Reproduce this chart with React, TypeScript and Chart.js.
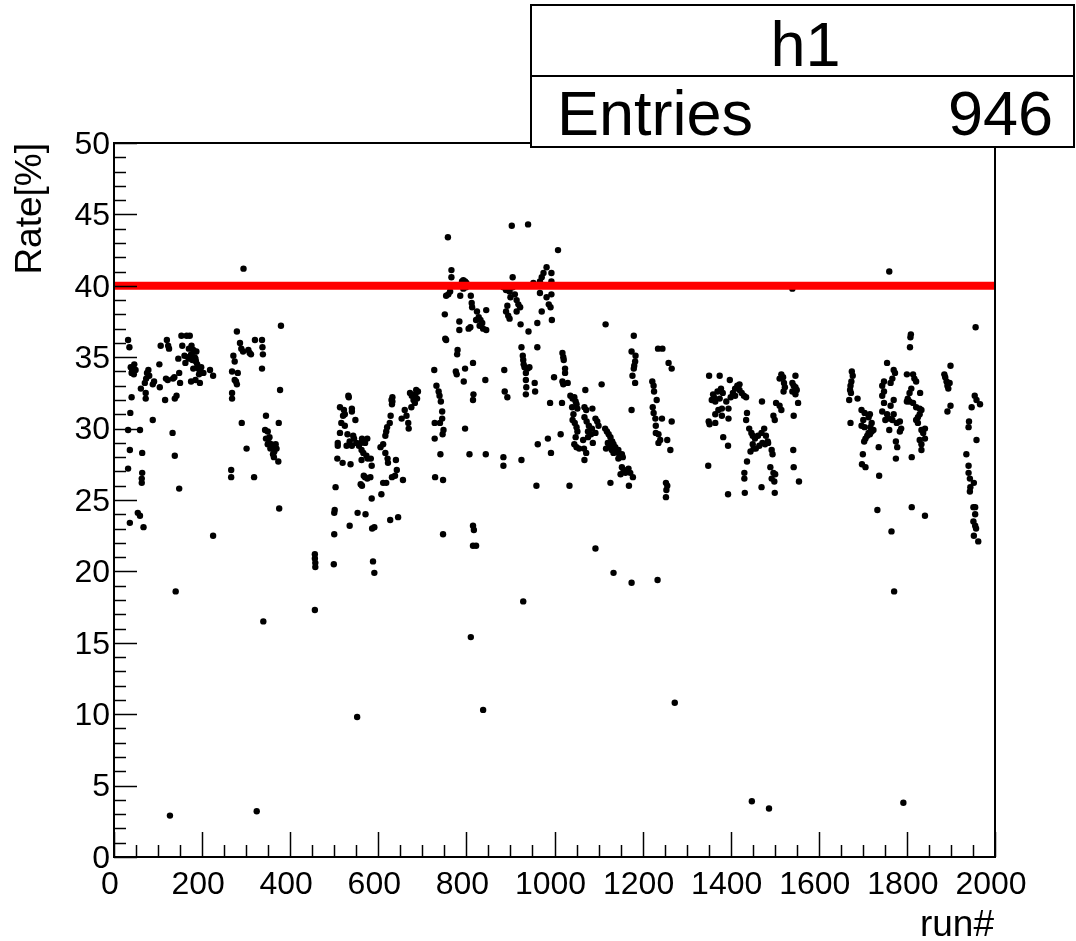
import React, { useEffect, useRef } from "react";
import { Chart, registerables } from "chart.js";

Chart.register(...registerables);

// ---- data: [run#, rate %], grouped by run range ----
const runs0to100: [number, number][] = [
  [32,36.2],[35,35.7],[38,34.3],[41,34.0],[44,34.2],[40,33.9],[45,33.8],[40,32.2],[37,31.1],[32,29.9],[59,29.9],[36,28.5],[64,28.3],[32,27.2],[64,26.9],[63,26.5],[63,26.2],[54,24.1],[59,23.9],[36,23.4],[67,23.1],[61,32.8],[72,32.5],[72,32.1],[75,33.9],[78,34.1],[80,33.7],[73,33.5],[70,33.2],[91,33.3],[88,33.1],[88,30.6],[49,34.1],[46,34.5],
];
const runs100to240: [number, number][] = [
  [103,34.5],[106,35.8],[104,32.9],[118,33.5],[122,33.4],[120,36.2],[123,35.8],[125,35.6],[116,32.0],[134,33.5],[137,33.6],[133,29.7],[138,28.1],[138,32.1],[142,32.3],[146,34.9],[148,33.9],[150,33.2],[148,25.8],[140,18.6],[127,2.9],[153,36.5],[155,35.8],[172,36.5],[165,36.5],[160,35.1],[170,35.6],[162,34.6],[175,35.2],[178,34.8],[180,35.5],[183,35.0],[186,34.7],[189,34.5],[192,34.2],[195,34.0],[198,34.3],[185,34.9],[193,33.8],[175,33.3],[185,33.4],[195,33.2],[218,34.1],[225,33.7],[225,22.5],[203,33.9],[180,34.2],[176,35.8],[187,35.4],[172,34.9],[168,35.0],
];
const runs260to380: [number, number][] = [
  [279,36.8],[271,35.1],[274,34.7],[268,34.0],[281,33.9],[286,36.0],[289,35.6],[293,35.4],[277,33.3],[279,33.1],[274,33.4],[268,32.5],[268,32.1],[290,30.4],[301,28.6],[266,27.1],[266,26.6],[318,26.6],[305,35.5],[308,35.3],[311,35.2],[320,36.2],[336,36.2],[337,35.7],[338,35.2],[336,34.2],[294,41.2],[379,37.2],[377,32.7],[374,30.4],[373,27.7],[375,24.4],[345,30.9],[343,29.9],[349,29.8],[345,29.3],[353,29.4],[349,28.9],[357,28.9],[361,28.7],[364,28.4],[369,28.6],[355,28.6],[361,28.2],[363,28.0],[324,3.2],[339,16.5],[352,29.0],[367,28.9],
];
const runs450to700: [number, number][] = [
  [456,21.2],[456,20.9],[457,20.6],[457,20.3],[456,17.3],[499,20.5],[500,22.6],[500,24.1],[501,24.3],[503,25.9],[507,27.9],[519,27.6],[537,27.5],[508,29.0],[508,28.8],[513,29.7],[516,30.4],[520,30.9],[524,30.2],[522,31.3],[513,31.5],[540,31.4],[540,31.2],[532,32.3],[533,32.2],[524,31.0],[548,30.6],[530,29.6],[545,29.3],[550,29.0],[556,28.8],[560,29.0],[575,29.3],[570,29.0],[563,29.3],[543,29.5],[528,28.8],[540,28.8],[535,29.1],[562,28.5],[566,28.3],[573,28.1],[576,27.9],[583,27.9],[562,27.8],[585,27.4],[567,26.7],[570,26.6],[560,26.1],[563,26.0],[575,26.5],[582,26.6],[585,25.1],[553,24.1],[571,24.0],[535,23.2],[586,23.0],[591,23.1],[552,9.8],[588,20.7],[591,19.9],[607,25.4],[611,26.2],[618,26.2],[605,28.7],[611,28.9],[616,28.3],[621,27.9],[622,27.6],[616,29.5],[618,29.8],[620,30.1],[626,30.4],[628,30.9],[631,31.7],[632,31.9],[632,32.2],[630,32.0],[640,27.8],[642,27.1],[638,26.7],[631,26.6],[656,26.4],[627,23.6],[645,23.8],[653,30.7],[660,31.3],[664,30.9],[668,30.4],[675,31.5],[672,32.5],[676,32.3],[680,32.0],[683,31.8],[686,32.7],[684,32.4],[690,32.6],[688,32.1],[669,30.0],
];
const runs720to860: [number, number][] = [
  [727,34.1],[732,33.0],[737,32.6],[739,32.3],[742,31.9],[745,31.2],[745,30.7],[740,30.4],[728,30.4],[748,29.9],[746,29.6],[728,29.3],[741,28.2],[729,26.6],[747,26.4],[747,22.6],[758,43.4],[766,41.1],[766,40.6],[754,39.3],[759,39.4],[763,39.6],[751,38.0],[752,36.3],[754,36.2],[780,35.5],[779,35.2],[776,34.0],[778,33.8],[797,34.2],[794,33.3],[797,30.0],[790,40.3],[793,40.4],[797,40.3],[800,40.2],[799,39.9],[793,39.8],[786,39.3],[810,39.3],[812,38.8],[813,38.5],[784,37.5],[784,36.9],[805,37.0],[809,37.1],[824,38.2],[828,37.8],[832,37.6],[836,37.4],[838,37.0],[845,36.9],[845,38.3],[815,34.6],[843,33.4],[816,32.4],[815,32.0],[807,28.2],[844,28.2],[815,23.2],[817,22.9],[815,21.8],[822,21.8],[810,15.4],[838,10.3],[830,37.2],[822,37.6],
];
const runs880to1010: [number, number][] = [
  [903,44.2],[940,44.3],[905,40.6],[884,39.9],[890,39.7],[893,40.0],[898,39.6],[905,39.9],[910,39.4],[914,39.0],[918,38.7],[922,38.5],[893,38.6],[890,38.2],[900,39.2],[895,37.9],[898,37.7],[914,38.2],[923,37.3],[941,36.8],[925,35.7],[928,35.1],[929,34.8],[930,34.5],[932,34.3],[939,34.2],[943,34.3],[935,33.9],[886,34.1],[935,33.4],[936,32.9],[935,32.4],[955,33.2],[956,32.6],[887,32.6],[893,32.2],[961,35.7],[961,37.4],[971,38.2],[952,40.2],[967,40.3],[971,40.6],[975,40.9],[982,41.3],[993,40.9],[993,40.3],[967,39.5],[982,39.2],[993,39.4],[987,38.7],[991,38.5],[994,37.6],[1008,42.5],[884,28.0],[884,27.4],[925,27.8],[959,26.0],[962,28.9],[985,29.3],[992,28.3],[990,31.8],[999,33.6],[929,17.9],
];
const runs1010to1100: [number, number][] = [
  [1014,29.6],[1017,31.8],[1018,35.3],[1020,35.0],[1021,34.8],[1024,34.2],[1024,33.9],[1018,33.3],[1020,33.1],[1030,33.2],[1034,26.0],[1036,32.3],[1041,32.1],[1045,32.2],[1048,31.9],[1050,31.7],[1052,31.4],[1040,31.5],[1043,31.0],[1041,30.6],[1046,30.4],[1070,32.7],[1068,31.5],[1072,31.3],[1068,30.8],[1073,30.5],[1078,30.2],[1085,30.0],[1050,30.1],[1052,29.8],[1048,29.4],[1045,28.9],[1050,28.7],[1056,28.6],[1067,28.6],[1072,28.3],[1068,27.8],[1065,29.2],[1076,29.4],[1083,29.6],[1087,29.0],[1076,29.8],[1093,30.7],[1093,29.7],[1093,21.6],[1097,30.5],[1086,31.4],
];
const runs1100to1280: [number, number][] = [
  [1116,37.3],[1107,33.1],[1100,30.2],[1115,30.0],[1119,29.8],[1123,29.6],[1127,29.4],[1131,29.1],[1134,28.9],[1138,28.7],[1141,28.5],[1145,28.3],[1121,29.0],[1125,28.8],[1130,28.5],[1134,28.3],[1145,28.5],[1149,28.1],[1153,28.2],[1155,28.0],[1145,27.9],[1117,28.6],[1153,27.3],[1157,27.1],[1161,26.9],[1168,27.2],[1172,26.9],[1150,26.8],[1165,27.0],[1178,26.6],[1169,26.0],[1127,26.2],[1134,19.9],[1175,19.2],[1180,36.5],[1175,35.4],[1184,35.1],[1183,34.7],[1181,34.4],[1180,34.2],[1177,33.7],[1183,33.2],[1175,31.3],[1235,35.6],[1245,35.6],[1259,34.6],[1266,34.2],[1222,33.3],[1225,33.0],[1226,32.6],[1232,32.0],[1223,31.5],[1225,31.1],[1229,30.7],[1230,30.2],[1244,30.7],[1230,29.7],[1236,29.6],[1240,29.2],[1236,29.0],[1266,30.5],[1256,29.2],[1263,28.5],[1253,26.2],[1256,26.0],[1254,25.7],[1253,25.2],[1234,19.4],[1273,10.8],
];
const runs1340to1560: [number, number][] = [
  [1351,33.7],[1375,33.7],[1398,33.4],[1420,33.1],[1360,32.4],[1362,32.2],[1357,32.0],[1365,31.9],[1370,32.6],[1378,32.8],[1382,32.5],[1375,32.1],[1390,31.9],[1400,32.2],[1405,32.5],[1410,32.8],[1415,33.0],[1420,32.7],[1425,32.5],[1430,32.3],[1435,32.2],[1410,32.3],[1395,31.4],[1380,31.4],[1372,31.3],[1365,31.0],[1350,30.5],[1352,30.3],[1365,30.4],[1380,30.9],[1395,30.7],[1349,27.4],[1383,29.4],[1394,28.8],[1394,25.4],[1432,25.5],[1437,31.1],[1435,30.6],[1442,30.0],[1447,29.7],[1450,29.5],[1455,29.3],[1462,29.5],[1470,29.7],[1476,30.0],[1480,29.5],[1484,29.1],[1450,28.9],[1457,28.6],[1465,28.8],[1472,29.0],[1478,28.9],[1485,29.0],[1445,28.4],[1452,28.6],[1437,27.7],[1431,26.9],[1431,26.5],[1471,31.9],[1493,28.5],[1495,28.2],[1490,27.3],[1497,26.9],[1501,26.8],[1493,26.5],[1499,26.3],[1470,25.9],[1500,25.5],[1497,30.9],[1500,30.6],[1503,31.8],[1511,31.6],[1515,31.3],[1520,32.6],[1521,33.2],[1511,33.5],[1515,33.8],[1519,33.6],[1523,32.9],[1540,33.2],[1543,33.0],[1547,32.9],[1550,32.7],[1547,32.4],[1540,32.6],[1547,33.7],[1553,31.8],[1543,30.9],[1542,28.5],[1543,27.3],[1555,26.3],[1540,39.8],[1448,3.9],[1487,3.4],
];
const runs1660to1850: [number, number][] = [
  [1760,41.0],[1675,34.0],[1677,33.7],[1674,33.3],[1672,33.0],[1671,32.7],[1673,32.5],[1669,32.0],[1688,32.1],[1672,30.4],[1697,31.3],[1704,31.1],[1701,30.6],[1697,30.2],[1704,30.1],[1716,31.0],[1713,30.8],[1720,30.4],[1717,30.1],[1724,29.9],[1713,29.7],[1710,29.5],[1706,29.3],[1703,29.1],[1716,29.6],[1720,29.8],[1700,28.2],[1698,27.5],[1706,27.3],[1736,28.7],[1737,26.7],[1733,24.3],[1765,22.8],[1771,18.6],[1792,3.8],[1755,34.6],[1770,34.1],[1773,33.9],[1748,33.3],[1744,33.0],[1763,33.2],[1767,33.5],[1748,32.6],[1744,32.3],[1748,31.8],[1744,31.2],[1755,31.0],[1751,30.6],[1760,30.7],[1767,30.6],[1770,31.0],[1770,32.0],[1763,31.6],[1777,30.4],[1784,30.5],[1787,30.0],[1784,29.8],[1760,29.9],[1775,29.1],[1778,28.7],[1775,27.9],
  [1800,33.8],[1814,33.8],[1817,33.5],[1821,33.3],[1810,32.8],[1806,32.5],[1802,32.1],[1800,31.9],[1806,31.9],[1814,31.8],[1821,31.5],[1829,31.4],[1833,31.3],[1829,31.0],[1825,30.8],[1821,30.6],[1825,30.4],[1833,29.9],[1841,30.0],[1837,29.7],[1841,29.3],[1829,29.2],[1833,28.9],[1833,28.5],[1808,36.4],[1809,36.6],[1807,35.7],[1830,32.5],[1811,28.0],[1811,24.5],[1841,23.9],
];
const runs1870to2000: [number, number][] = [
  [1899,34.4],[1885,33.8],[1887,33.6],[1890,33.3],[1892,33.0],[1894,32.8],[1897,33.2],[1899,31.6],[1892,31.2],[1956,37.1],[1954,32.3],[1958,32.0],[1966,31.7],[1947,31.5],[1941,30.5],[1940,30.1],[1958,29.2],[1935,28.2],[1940,27.4],[1940,26.9],[1943,26.5],[1944,25.9],[1943,25.6],[1952,26.2],[1951,24.5],[1955,24.5],[1955,24.0],[1951,23.5],[1955,23.2],[1957,23.0],[1952,22.5],[1962,22.1],
];

const thresholdRuns = [0, 2000];
const thresholdRate = 40;

const xTickValues = [0, 200, 400, 600, 800, 1000, 1200, 1400, 1600, 1800, 2000];
const yTickValues = [0, 5, 10, 15, 20, 25, 30, 35, 40, 45, 50];
const xTitle = "run#";
const yTitle = "Rate[%]";
const statsName = "h1";
const statsEntriesLabel = "Entries";
const statsEntries = 946;

const FONT = '"Liberation Sans", Arial, Helvetica, sans-serif';

const allPoints = [
  ...runs0to100, ...runs100to240, ...runs260to380, ...runs450to700,
  ...runs720to860, ...runs880to1010, ...runs1010to1100, ...runs1100to1280,
  ...runs1340to1560, ...runs1660to1850, ...runs1870to2000,
].map(([x, y]) => ({ x, y }));

const rootStylePlugin = {
  id: "rootStyle",
  beforeDraw(chart: any) {
    const ctx = chart.ctx;
    ctx.save();
    ctx.fillStyle = "#ffffff";
    ctx.fillRect(0, 0, chart.width, chart.height);
    ctx.restore();
  },
  afterDraw(chart: any) {
    const ctx = chart.ctx;
    const { left, right, top, bottom } = chart.chartArea;
    const xs = chart.scales.x;
    const ys = chart.scales.y;
    ctx.save();
    ctx.strokeStyle = "#000";
    ctx.fillStyle = "#000";
    // frame
    ctx.lineWidth = 2;
    ctx.strokeRect(left, top, right - left, bottom - top);
    // y ticks (inside)
    ctx.lineWidth = 1.5;
    for (let v = 0; v <= 50; v += 1) {
      const y = Math.round(ys.getPixelForValue(v)) + 0.5;
      const len = v % 5 === 0 ? 23 : 12;
      ctx.beginPath();
      ctx.moveTo(left, y);
      ctx.lineTo(left + len, y);
      ctx.stroke();
    }
    // x ticks (inside)
    for (let v = 0; v <= 2000; v += 50) {
      const x = Math.round(xs.getPixelForValue(v)) + 0.5;
      const len = v % 200 === 0 ? 25 : 12;
      ctx.beginPath();
      ctx.moveTo(x, bottom);
      ctx.lineTo(x, bottom - len);
      ctx.stroke();
    }
    // tick labels
    ctx.font = `32px ${FONT}`;
    ctx.textAlign = "right";
    ctx.textBaseline = "middle";
    yTickValues.forEach((v) => {
      ctx.fillText(String(v), left - 4, ys.getPixelForValue(v) + 2);
    });
    ctx.textAlign = "center";
    ctx.textBaseline = "alphabetic";
    xTickValues.forEach((v) => {
      ctx.fillText(String(v), xs.getPixelForValue(v) - 4, 894);
    });
    // axis titles
    ctx.font = `37px ${FONT}`;
    ctx.textAlign = "right";
    ctx.fillText(xTitle, right - 1, 936);
    ctx.save();
    ctx.translate(41, top);
    ctx.rotate(-Math.PI / 2);
    ctx.textAlign = "right";
    ctx.textBaseline = "alphabetic";
    ctx.fillText(yTitle, 0, 0);
    ctx.restore();
    // stats box
    const bx = 531, by = 5, bw = 543, bh = 142, mid = 76;
    ctx.fillStyle = "#fff";
    ctx.fillRect(bx, by, bw, bh);
    ctx.strokeStyle = "#000";
    ctx.lineWidth = 2;
    ctx.strokeRect(bx, by, bw, bh);
    ctx.beginPath();
    ctx.moveTo(bx, mid);
    ctx.lineTo(bx + bw, mid);
    ctx.stroke();
    ctx.fillStyle = "#000";
    ctx.font = `63px ${FONT}`;
    ctx.textAlign = "center";
    ctx.textBaseline = "alphabetic";
    ctx.fillText(statsName, bx + bw / 2 + 3, 66);
    ctx.textAlign = "left";
    ctx.fillText(statsEntriesLabel, 557, 135);
    ctx.textAlign = "right";
    ctx.fillText(String(statsEntries), 1053, 135);
    ctx.restore();
  },
};

export default function App() {
  const canvasRef = useRef<HTMLCanvasElement | null>(null);

  useEffect(() => {
    const canvas = canvasRef.current;
    if (!canvas) return;
    const chart = new Chart(canvas, {
      type: "scatter",
      data: {
        datasets: [
          {
            label: "threshold",
            data: thresholdRuns.map((x) => ({ x, y: thresholdRate })),
            showLine: true,
            borderColor: "#ff0000",
            backgroundColor: "#ff0000",
            borderWidth: 8,
            pointRadius: 0,
            order: 0,
          } as any,
          {
            label: "h1",
            data: allPoints,
            backgroundColor: "#000000",
            borderWidth: 0,
            pointRadius: 3.2,
            pointHoverRadius: 3.2,
            order: 1,
          } as any,
        ],
      },
      options: {
        animation: false,
        responsive: false,
        devicePixelRatio: 1,
        layout: { padding: { left: 114, top: 143, right: 81, bottom: 84 } },
        plugins: {
          legend: { display: false },
          tooltip: { enabled: false },
          title: { display: false },
        },
        events: [],
        scales: {
          x: { type: "linear", min: 0, max: 2000, display: false },
          y: { type: "linear", min: 0, max: 50, display: false },
        },
      },
      plugins: [rootStylePlugin],
    });
    return () => chart.destroy();
  }, []);

  return (
    <div style={{ position: "absolute", left: 0, top: 0, width: 1076, height: 941, background: "#fff" }}>
      <canvas ref={canvasRef} width={1076} height={941} style={{ display: "block" }} />
    </div>
  );
}
